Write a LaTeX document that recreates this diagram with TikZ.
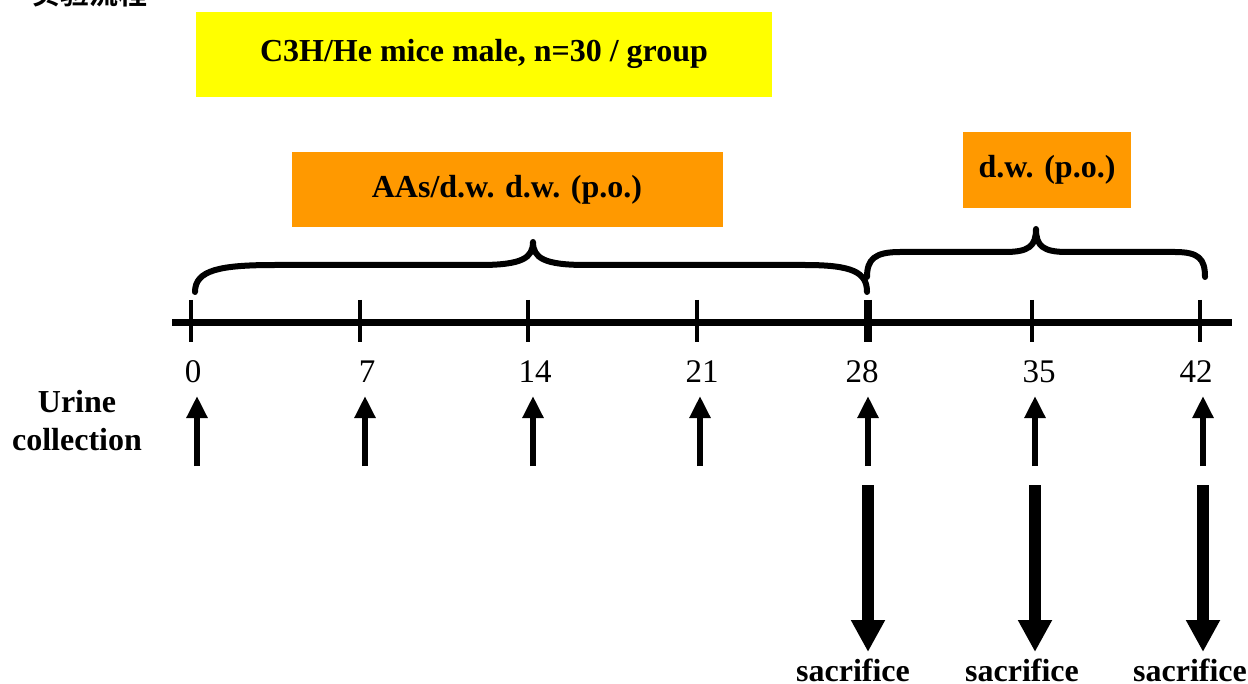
\documentclass[tikz,border=0pt]{standalone}
\usepackage{fontspec}
\setmainfont{Liberation Serif}
\newfontfamily\cjk{Noto Sans CJK SC Bold}
\usetikzlibrary{arrows.meta}
\definecolor{boxyellow}{HTML}{FFFF00}
\definecolor{boxorange}{HTML}{FF9900}
\begin{document}
\begin{tikzpicture}[x=0.5pt,y=-0.5pt,
  lbl/.style={font=\fontsize{16}{19}\selectfont\bfseries, inner sep=0pt},
  daylbl/.style={font=\fontsize{16.5}{19}\selectfont, inner sep=0pt, anchor=base},
  brace/.style={line width=3pt, line cap=round, line join=round},
  tick/.style={line width=2pt},
  collect/.style={line width=3pt, -{Triangle[width=10pt,length=11pt]}},
  killarrow/.style={line width=6pt, -{Triangle[width=16pt,length=16pt]}},
]
\useasboundingbox (0,0) rectangle (1248,684);

% heading, running off the top edge
\node[anchor=base west, inner sep=0pt, font=\cjk\fontsize{14.5}{16}\selectfont] (title) at (31,5) {实验流程};

% treatment boxes
\fill[boxyellow] (196,12) rectangle (772,97);
\node[lbl, anchor=base] (mice) at (484,62) {C3H/He mice male, n=30 / group};
\fill[boxorange] (292,152) rectangle (723,227);
\node[lbl, anchor=base] (aas) at (507,198) {AAs/d.w. d.w. (p.o.)};
\fill[boxorange] (963,132) rectangle (1131,208);
\node[lbl, anchor=base] (dw) at (1047,178) {d.w. (p.o.)};

% braces over the two periods
\draw[brace] (195,292) .. controls (195,270) and (220,265) .. (275,265)
  -- (480,265) .. controls (522,265) and (533,258) .. (533,242)
  .. controls (533,258) and (544,265) .. (586,265)
  -- (805,265) .. controls (852,265) and (867,272) .. (867,292);
\draw[brace] (867,277) .. controls (867,259) and (875,252) .. (900,252)
  -- (1005,252) .. controls (1029,252) and (1036,246) .. (1036,229)
  .. controls (1036,246) and (1043,252) .. (1067,252)
  -- (1175,252) .. controls (1199,252) and (1205,259) .. (1205,277);

% time axis
\coordinate (axL) at (172,323);
\coordinate (axR) at (1232,323);
\draw[line width=3.5pt] (axL) -- (axR);
\foreach \d/\x in {0/191,7/360,14/528,21/697,35/1032,42/1200}{
  \draw[tick] (\x,300) -- (\x,342);
}
\draw[line width=4pt] (868,300) -- (868,342);

% day labels
\foreach \d/\x in {0/193,7/367,14/535,21/702,28/862,35/1039,42/1196}{
  \node[daylbl] (d\d) at (\x,382) {\d};
}

% urine collection
\node[lbl, anchor=base] (urine) at (77,412) {Urine};
\node[lbl, anchor=base] (coll) at (77,450) {collection};
\foreach \d/\x in {0/197,7/365,14/533,21/700,28/868,35/1035,42/1203}{
  \coordinate (ub\d) at (\x,466);
  \coordinate (ut\d) at (\x,396);
  \draw[collect] (ub\d) -- (ut\d);
}

% sacrifice
\foreach \d/\x/\lx in {28/868/853,35/1035/1022,42/1203/1190}{
  \node[lbl, anchor=base] (s\d) at (\lx,681) {sacrifice};
  \coordinate (sk\d) at (\x,485);
  \coordinate (st\d) at (\x,652);
  \draw[killarrow] (sk\d) -- (st\d);
}
\end{tikzpicture}
\end{document}
